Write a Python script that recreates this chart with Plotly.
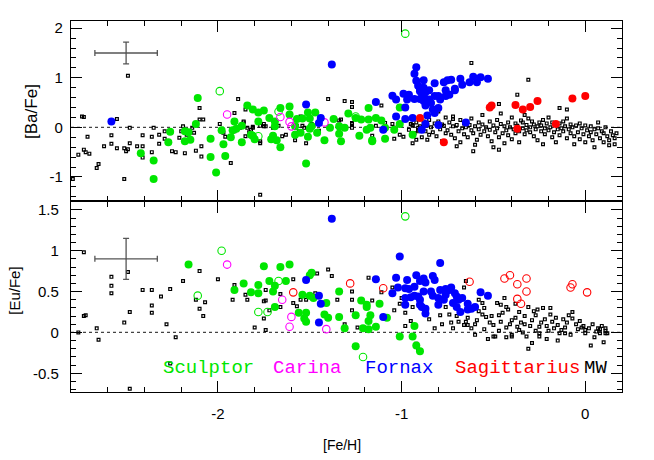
import plotly.graph_objects as go

# ---------------- DATA ([Fe/H], [X/Fe]) ----------------
# Top panel: [Ba/Fe]
fornax_ba = [(-2.58,0.12),(-1.52,0.46),(-1.44,0.19),(-1.45,0.09),(-1.38,1.27),
 (-0.92,1.21),(-0.93,1.08),(-0.92,0.94),(-0.88,0.95),(-0.82,0.89),(-0.77,0.91),(-0.75,0.95),(-0.73,0.96),
 (-0.68,0.98),(-0.67,0.86),(-0.63,0.91),(-0.61,1.02),(-0.59,0.91),(-0.57,1.01),(-0.53,0.98),
 (-0.90,0.78),(-0.88,0.80),(-0.89,0.69),(-0.87,0.71),(-0.90,0.57),(-0.93,0.57),(-0.97,0.56),(-0.96,0.66),
 (-1.05,0.64),(-1.03,0.56),(-0.98,0.40),(-1.03,0.22),(-0.98,0.17),(-0.94,0.19),(-0.89,-0.05),(-0.87,0.07),
 (-0.86,0.24),(-0.83,0.36),(-0.80,0.39),(-0.84,0.49),(-0.82,0.63),(-0.80,0.63),(-0.79,0.56),(-0.76,0.75),
 (-0.76,0.63),(-0.74,0.66),(-0.71,0.78),(-0.71,0.75),(-0.80,0.05),(-0.65,0.10),(-0.85,0.75),(-0.88,0.63),
 (-0.91,0.84),(-1.14,0.51),(-1.10,-0.05),(-0.99,0.68),(-0.88,0.53),(-0.85,0.56),(-0.87,0.44),(-0.82,0.29),
 (-0.90,0.73)]
sgr_ba = [(-0.90,0.19),(-0.77,-0.30),(-0.52,0.40),(-0.51,0.44),(-0.38,0.45),(-0.34,0.36),(-0.30,0.41),
 (-0.26,0.53),(-0.37,-0.03),(-0.16,0.07),(-0.07,0.58),(0.00,0.63)]
scl_ba = [(-2.11,0.59),(-1.84,0.44),(-2.12,0.07),(-2.26,-0.09),(-2.18,-0.08),(-2.16,-0.10),(-2.27,-0.30),
 (-2.18,-0.28),(-2.15,-0.25),(-2.04,-0.23),(-2.42,-0.52),(-2.35,-0.67),(-2.35,-1.04),(-2.04,-0.60),
 (-2.01,-0.91),(-1.97,-0.34),(-1.96,-0.58),(-1.98,-0.06),(-1.93,-0.20),(-1.91,0.12),(-1.92,-0.06),
 (-1.90,-0.03),(-1.87,0.03),(-1.87,-0.30),(-1.82,-0.15),(-1.81,0.36),(-1.78,0.30),(-1.75,0.34),(-1.78,0.12),
 (-1.81,-0.17),(-1.80,-0.24),(-1.72,0.19),(-1.69,0.12),(-1.70,-0.17),(-1.71,-0.24),(-1.68,-0.26),
 (-1.66,-0.40),(-1.66,0.39),(-1.61,0.42),(-1.61,0.26),(-1.57,0.17),(-1.54,0.18),(-1.51,0.30),(-1.47,0.30),
 (-1.50,0.18),(-1.58,0.02),(-1.55,-0.11),(-1.51,-0.19),(-1.50,-0.03),(-1.58,-0.15),(-1.52,-0.73),
 (-1.42,-0.26),(-1.39,-0.01),(-1.37,0.17),(-1.34,0.02),(-1.34,-0.13),(-1.31,-0.01),(-1.29,0.28),
 (-1.25,0.19),(-1.22,0.16),(-1.23,-0.17),(-1.18,0.39),(-1.18,0.16),(-1.19,-0.05),(-1.17,-0.01),
 (-1.16,-0.26),(-1.14,0.19),(-1.11,0.14),(-1.09,-0.01),(-1.09,-0.23),(-1.04,-0.05),(-1.01,0.40),
 (-0.94,-0.15),(-1.46,-0.11),(-1.49,0.02),(-1.69,0.02),(-1.01,0.07),(-1.33,-0.28),(-1.16,-0.28)]
scl_ba_open = [(-1.99,0.73),(-0.98,1.89),(-1.78,-0.18),(-1.67,0.32),(-1.25,0.22)]
car_ba = [(-1.95,0.26),(-1.66,0.21),(-1.61,0.11),(-1.60,0.02),(-1.42,0.10)]
mw_ba = [(-2.79,-1.04),(-2.76,-0.55),(-2.74,0.22),(-2.73,0.21),(-2.71,-0.19),(-2.73,-0.45),(-2.72,-0.50),
 (-2.70,-0.53),(-2.66,-0.82),(-2.65,-0.74),(-2.62,-0.38),(-2.58,-0.16),(-2.58,-0.33),(-2.55,0.17),
 (-2.55,-0.42),(-2.51,-0.42),(-2.50,-0.48),(-2.49,-0.44),(-2.51,-1.04),(-2.49,1.04),(-2.48,-0.01),
 (-2.44,-0.38),(-2.41,-0.16),(-2.41,-0.38),(-2.36,-0.50),(-2.35,-0.01),(-2.36,-0.19),(-2.32,-0.15),
 (-2.32,-0.33),(-2.29,-0.23),(-2.25,-0.48),(-2.23,-0.50),(-2.21,-0.21),(-2.20,-0.08),(-2.19,0.02),
 (-2.18,-0.52),(-2.17,-0.15),(-2.14,-0.01),(-2.13,-0.11),(-2.10,0.39),(-2.10,0.16),(-2.12,-0.47),
 (-2.09,-0.38),(-2.08,0.16),(-2.09,-0.59),(-1.99,0.07),(-1.97,-0.11),(-1.96,-0.19),(-1.93,-0.72),
 (-1.91,-0.08),(-1.89,0.57),(-1.88,-0.01),(-1.86,0.12),(-1.85,-0.18),(-1.83,-0.10),(-1.81,-0.01),
 (-1.77,-1.36),(-1.77,-0.28),(-1.75,0.02),(-1.70,-0.01),(-1.67,0.03),(-1.65,-0.18),(-1.63,-0.15),
 (-1.58,-0.26),(-1.56,-0.08),(-1.54,0.03),(-1.52,-0.32),(-1.45,-0.07),(-1.40,0.57),(-2.48,-0.32),
 (-2.41,-0.61),(-2.29,-0.08),(-1.91,0.29),(-1.85,0.36),(-1.86,0.10),(-1.84,-0.01),(-1.82,-0.05),
 (-1.81,0.01),(-1.77,0.03),(-1.75,0.07),(-1.77,-0.32),(-1.74,0.02),(-1.57,0.03),(-1.55,0.22),(-1.53,-0.01),
 (-1.49,0.07),(-1.48,0.03),(-1.46,-0.11),(-1.27,0.41),(-1.34,0.14),(-1.27,0.09),(-1.34,-0.01),
 (-1.16,-0.17),(-1.14,0.03),(-1.09,0.09),(-1.05,0.07),(-1.04,-0.01),(-1.01,-0.15),(-0.99,-0.19),
 (-0.96,-0.05),(-0.94,0.03),(-0.92,-0.25),(-0.91,-0.08),(-1.31,0.53),(-1.27,0.51),(-1.33,0.16),
 (-1.27,0.07),(-1.27,-0.01),(-1.11,0.44),(-1.04,-0.23),(-0.95,0.07),(-0.94,-0.32),(-0.91,-0.01),
 (-0.80,0.32),(-0.72,0.17),(-0.62,1.30),(-0.47,0.47),(-0.37,0.66),(-0.31,0.96),(-0.14,0.39),(-0.10,0.36),
 (0.07,0.10),(0.16,-0.34),(-0.61,-0.48),(-0.47,-0.45),
 (-0.94,0.05),(-0.93,-0.12),(-0.92,0.10),(-0.91,-0.05),(-0.90,0.02),(-0.89,-0.20),(-0.88,0.12),(-0.87,-0.08),
 (-0.86,0.04),(-0.85,-0.15),(-0.85,0.15),(-0.86,-0.25),(-0.84,0.00),(-0.83,-0.10),(-0.82,0.08),(-0.81,-0.18),
 (-0.80,0.12),(-0.79,-0.04),(-0.78,-0.28),(-0.77,0.03),(-0.76,-0.12),(-0.76,0.20),(-0.75,-0.06),(-0.78,0.06),
 (-0.74,0.10),(-0.73,-0.15),(-0.72,0.02),(-0.71,-0.22),(-0.70,0.05),(-0.69,-0.08),(-0.68,0.15),(-0.68,-0.30),
 (-0.67,-0.02),(-0.66,0.08),(-0.66,-0.14),(-0.65,0.00),(-0.72,0.22),(-0.70,-0.38),(-0.64,-0.20),(-0.63,0.05),
 (-0.62,-0.06),(-0.62,0.18),(-0.61,-0.12),(-0.60,0.02),(-0.59,-0.25),(-0.58,0.10),(-0.58,-0.04),(-0.57,-0.15),
 (-0.56,0.06),(-0.55,-0.08),(-0.56,0.25),(-0.60,-0.35),(-0.54,0.00),(-0.53,-0.18),(-0.52,0.12),(-0.52,-0.05),
 (-0.51,-0.28),(-0.50,0.04),(-0.49,-0.10),(-0.48,0.15),(-0.48,-0.02),(-0.47,-0.20),(-0.46,0.07),(-0.45,-0.12),
 (-0.46,0.28),(-0.50,-0.40),(-0.44,0.02),(-0.43,-0.06),(-0.42,0.10),(-0.42,-0.16),(-0.41,0.00),(-0.40,-0.24),
 (-0.40,0.20),(-0.39,-0.04),(-0.38,0.08),(-0.38,-0.12),(-0.37,0.03),(-0.36,-0.08),(-0.35,0.14),(-0.36,-0.30),
 (-0.44,-0.32),(-0.34,-0.02),(-0.34,0.10),(-0.33,-0.14),(-0.32,0.05),(-0.32,-0.06),(-0.31,0.18),(-0.30,-0.10),
 (-0.30,0.00),(-0.29,0.12),(-0.28,-0.18),(-0.28,0.06),(-0.27,-0.04),(-0.26,0.02),(-0.26,-0.26),(-0.25,0.10),
 (-0.33,0.25),(-0.24,-0.08),(-0.24,0.04),(-0.23,0.15),(-0.22,-0.02),(-0.22,-0.14),(-0.21,0.08),(-0.20,-0.06),
 (-0.20,0.20),(-0.19,0.00),(-0.18,-0.20),(-0.18,0.10),(-0.17,-0.10),(-0.16,0.05),(-0.15,-0.04),(-0.16,-0.30),
 (-0.23,-0.34),(-0.14,0.08),(-0.14,-0.16),(-0.13,-0.02),(-0.12,0.12),(-0.12,-0.08),(-0.11,0.02),(-0.10,-0.22),
 (-0.10,0.18),(-0.09,-0.04),(-0.08,0.06),(-0.08,-0.12),(-0.07,0.00),(-0.06,-0.18),(-0.05,0.04),(-0.06,-0.34),
 (-0.04,-0.10),(-0.03,0.08),(-0.03,-0.24),(-0.02,-0.02),(-0.01,-0.14),(0.00,0.04),(0.00,-0.30),(0.01,-0.06),
 (0.02,-0.18),(0.03,0.02),(0.03,-0.10),(0.04,-0.26),(0.05,-0.04),(0.05,-0.40),(0.06,-0.14),(0.07,-0.02),
 (0.08,-0.22),(0.09,-0.08),(0.10,-0.30),(0.10,-0.12),(0.11,0.00),(0.12,-0.18),(0.13,-0.26),(0.14,-0.08),
 (0.15,-0.16),(0.16,-0.22),(0.17,-0.12),(0.13,-0.36)]

# Bottom panel: [Eu/Fe]
fornax_eu = [(-1.38,1.39),(-1.52,0.64),(-1.45,0.45),(-1.44,0.35),(-1.45,0.12),(-1.14,0.65),(-1.10,0.19),
 (-1.01,0.93),(-1.03,0.67),(-1.05,0.48),(-0.97,0.64),(-0.92,0.70),(-0.88,0.66),(-0.96,0.53),(-0.98,0.54),
 (-0.93,0.45),(-0.90,0.40),(-0.89,0.31),(-0.87,0.23),(-1.02,0.55),(-0.98,0.42),(-0.87,0.61),(-0.83,0.69),
 (-0.82,0.64),(-0.79,0.85),(-0.76,0.53),(-0.73,0.55),(-0.71,0.48),(-0.69,0.40),(-0.67,0.42),(-0.64,0.35),
 (-0.62,0.29),(-0.60,0.31),(-0.57,0.49),(-0.53,0.45),(-0.91,0.44),(-0.88,0.50),(-0.90,0.34),(-0.87,0.29),
 (-0.84,0.50),(-0.80,0.42),(-0.80,0.34),(-0.77,0.40),(-0.76,0.46),(-0.72,0.36),(-0.70,0.31),(-0.68,0.25),
 (-0.95,0.43),(-0.98,0.34),(-0.93,0.56),(-0.90,0.63),(-0.83,0.45),(-0.79,0.52),(-0.74,0.52),(-0.70,0.44),
 (-0.64,0.28)]
scl_eu = [(-2.16,0.83),(-1.91,0.52),(-1.86,0.60),(-1.82,0.49),(-1.78,0.58),(-1.78,0.48),(-1.75,0.81),
 (-1.72,0.63),(-1.70,0.50),(-1.69,0.57),(-1.66,0.80),(-1.63,0.63),(-1.61,0.83),(-1.69,0.31),(-1.54,0.46),
 (-1.52,0.24),(-1.53,0.17),(-1.52,0.13),(-1.50,0.70),(-1.49,0.73),(-1.50,0.45),(-1.48,0.42),(-1.42,0.22),
 (-1.40,0.18),(-1.41,0.36),(-1.56,0.24),(-1.34,0.50),(-1.34,0.19),(-1.31,0.05),(-1.25,0.21),(-1.25,-0.17),
 (-1.22,0.39),(-1.19,0.34),(-1.19,0.31),(-1.21,0.05),(-1.18,0.04),(-1.18,0.14),(-1.17,0.21),(-1.14,0.07),
 (-1.12,0.35),(-1.08,0.18),(-1.01,-0.05),(-0.94,-0.05),(-0.93,0.08),(-0.92,-0.16),(-0.90,-0.23)]
scl_eu_open = [(-1.98,1.00),(-2.11,0.45),(-1.78,0.25),(-1.73,0.25),(-1.67,0.63),(-1.21,-0.30),(-0.98,1.42)]
car_eu = [(-1.95,0.83),(-1.65,0.40),(-1.60,0.19),(-1.61,0.07),(-1.41,0.04)]
sgr_eu = [(-1.59,0.49),(-1.28,0.60),(-1.10,0.54),(-0.63,0.62),(-0.44,0.66),(-0.41,0.70),(-0.37,0.59),
 (-0.32,0.66),(-0.32,0.50),(-0.37,0.41),(-0.35,0.35),(-0.08,0.55),(-0.07,0.59),(0.01,0.49)]
mw_eu = [(-2.73,0.98),(-2.76,0.00),(-2.73,0.20),(-2.72,0.21),(-2.66,0.05),(-2.65,-0.09),(-2.58,0.68),
 (-2.58,0.57),(-2.58,0.48),(-2.49,0.74),(-2.48,0.25),(-2.51,0.12),(-2.48,-0.69),(-2.41,0.52),(-2.36,0.52),
 (-2.36,0.33),(-2.36,0.24),(-2.31,0.44),(-2.28,0.10),(-2.26,0.53),(-2.23,-0.06),(-2.26,-0.38),(-2.19,0.63),
 (-2.10,0.75),(-2.12,0.40),(-2.10,0.29),(-2.08,0.20),(-2.07,0.37),(-2.00,0.65),(-1.92,0.40),(-1.91,0.58),
 (-1.85,0.46),(-1.84,0.40),(-1.80,0.06),(-1.75,0.38),(-1.75,0.17),(-1.74,0.03),(-1.72,0.27),(-1.66,0.47),
 (-1.66,0.31),(-1.59,0.65),(-1.59,0.36),(-1.57,0.32),(-1.55,0.40),(-1.52,0.40),(-1.47,0.48),(-1.46,0.72),
 (-1.40,0.77),(-1.74,0.52),(-1.74,0.39),(-1.38,0.69),(-1.35,0.40),(-1.31,0.10),(-1.27,0.50),(-1.27,0.40),
 (-1.27,0.27),(-1.24,0.06),(-1.18,0.67),(-1.16,0.39),(-1.11,0.49),(-1.04,0.27),(-1.05,0.55),(-1.01,0.35),
 (-0.98,0.08),(-0.95,0.14),(-0.94,0.31),(-0.98,0.24),(-0.92,-0.14),(-0.91,-0.21),
 (-0.65,0.63),(-0.66,0.55),(-0.79,0.21),(-0.76,0.31),(-0.69,0.13),(-0.66,0.09),(-0.64,0.18),(-0.60,-0.03),
 (-0.60,0.10),(-0.59,0.15),(-0.56,0.22),(-0.56,0.36),(-0.53,-0.08),(-0.52,0.12),(-0.50,0.09),(-0.49,-0.05),
 (-0.48,0.36),(-0.47,0.21),(-0.46,0.13),(-0.44,0.42),(-0.43,0.31),(-0.42,0.28),(-0.43,0.06),(-0.40,0.15),
 (-0.40,-0.03),(-0.37,0.07),(-0.36,0.25),(-0.33,0.20),(-0.32,-0.05),(-0.31,-0.20),(-0.31,0.31),(-0.29,0.15),
 (-0.27,0.21),(-0.25,0.07),(-0.25,-0.01),(-0.22,0.16),(-0.21,0.08),(-0.19,0.22),(-0.18,0.13),(-0.17,0.05),
 (-0.14,-0.01),(-0.12,0.16),(-0.11,0.06),(-0.07,0.25),(-0.07,0.17),(-0.04,0.04),(-0.02,0.06),(0.02,0.05),
 (0.03,-0.16),(0.05,-0.06),(0.08,0.04),(0.08,-0.01),(0.11,0.05),(0.11,-0.01),(0.11,0.02),(-0.65,0.13),
 (-0.64,0.09),(-0.54,0.19),(-0.50,-0.05),(-0.40,-0.05),(-0.46,0.34),(-0.36,0.03),(-0.25,-0.05),(-0.11,-0.01),
 (-0.01,0.08),(0.00,-0.01),(0.07,0.05),(0.10,-0.12),(0.12,-0.01),(-0.58,0.26),(-0.55,0.04),(-0.51,0.20),
 (-0.47,0.02),(-0.45,0.24),(-0.41,0.10),(-0.38,0.18),(-0.35,0.12),(-0.34,0.00),(-0.30,0.08),(-0.28,0.26),
 (-0.27,0.02),(-0.24,0.12),(-0.23,0.30),(-0.20,0.02),(-0.16,0.18),(-0.15,0.09),(-0.13,0.03),(-0.10,0.12),
 (-0.09,0.21),(-0.08,-0.03),(-0.05,0.10),(-0.03,0.14),(0.00,0.03),(0.04,0.10),(0.06,0.01),(0.09,0.08),
 (-0.29,-0.13),(-0.21,-0.08),(-0.15,-0.10),(-0.58,0.40),(-0.62,0.05),(-0.70,0.20),(-0.73,0.12),(-0.55,0.30),
 (-0.38,0.35),(-0.26,0.28),(-0.19,0.30),(-0.43,-0.06),(-0.33,0.10),(-0.85,0.16),(-0.82,0.05),(-0.78,0.10),
 (-0.74,0.22),(-0.72,0.05),(-1.00,0.42)]

# typical error bars
err_ba = dict(x=-2.5, y=1.5, dx=0.17, dy=0.22)
err_eu = dict(x=-2.5, y=0.9, dx=0.17, dy=0.25)

legend_names = ["Sculptor", "Carina", "Fornax", "Sagittarius", "MW"]
legend_colors = ["#00e600", "#ff00ff", "#0000ff", "#ff0000", "#000000"]
legend_x = [-2.31, -1.71, -1.21, -0.72, -0.02]

# ---------------- FIGURE ----------------
GREEN, MAG, BLUE, RED = legend_colors[:4]
fig = go.Figure()

def add(pts, ax, ay, color, kind):
    xs = [p[0] for p in pts]
    ys = [p[1] for p in pts]
    if kind == "mw":
        m = dict(symbol="square-open", size=2.8, color="black", line=dict(width=1.2, color="black"))
    elif kind == "open":
        m = dict(symbol="circle-open", size=7.5, color=color, line=dict(width=1.1, color=color))
    else:
        m = dict(symbol="circle", size=8, color=color, line=dict(width=0))
    fig.add_trace(go.Scatter(x=xs, y=ys, mode="markers", marker=m, xaxis=ax, yaxis=ay,
                             showlegend=False, hoverinfo="skip"))

add(mw_ba, "x", "y", "black", "mw")
add(scl_ba, "x", "y", GREEN, "filled")
add(scl_ba_open, "x", "y", GREEN, "open")
add(car_ba, "x", "y", MAG, "open")
add(fornax_ba, "x", "y", BLUE, "filled")
add(sgr_ba, "x", "y", RED, "filled")

add(mw_eu, "x2", "y2", "black", "mw")
add(scl_eu, "x2", "y2", GREEN, "filled")
add(scl_eu_open, "x2", "y2", GREEN, "open")
add(car_eu, "x2", "y2", MAG, "open")
add(sgr_eu, "x2", "y2", RED, "open")
add(fornax_eu, "x2", "y2", BLUE, "filled")

for e, ax, ay in [(err_ba, "x", "y"), (err_eu, "x2", "y2")]:
    fig.add_trace(go.Scatter(x=[e["x"]], y=[e["y"]], mode="markers", xaxis=ax, yaxis=ay,
        marker=dict(size=1, color="#555555"), showlegend=False, hoverinfo="skip",
        error_x=dict(type="constant", value=e["dx"], color="#555555", thickness=1.3, width=3),
        error_y=dict(type="constant", value=e["dy"], color="#555555", thickness=1.3, width=3)))

for ax, ay in [("x", "y"), ("x2", "y2")]:
    fig.add_shape(type="line", xref=ax, yref=ay, x0=-2.8, x1=0.2, y0=0, y1=0,
                  line=dict(color="#444444", width=1.2, dash="dot"), layer="below")

SPLIT = 0.5135
tickfont = dict(family="Liberation Sans, Arial, sans-serif", size=15, color="black")
xcommon = dict(range=[-2.8, 0.2], showline=True, linecolor="black", linewidth=1.4, mirror="allticks",
               ticks="inside", ticklen=11, tickwidth=1.1, tickcolor="black", tick0=0, dtick=1,
               minor=dict(ticks="inside", ticklen=5, tickwidth=1, tickcolor="black", tick0=0, dtick=0.2),
               showgrid=False, zeroline=False, tickfont=tickfont)
ycommon = dict(showline=True, linecolor="black", linewidth=1.4, mirror="allticks",
               ticks="inside", ticklen=11, tickwidth=1.1, tickcolor="black",
               showgrid=False, zeroline=False, tickfont=tickfont)

fig.update_layout(
    width=654, height=460, margin=dict(l=71, r=32, t=21, b=68),
    paper_bgcolor="white", plot_bgcolor="white",
    xaxis=dict(xcommon, anchor="y", matches="x2", showticklabels=False),
    yaxis=dict(ycommon, domain=[SPLIT, 1], anchor="x", range=[-1.495, 2.145],
               tickvals=[-1, 0, 1, 2], ticktext=["-1", "0", "1", "2"], ticklabelstandoff=4,
               minor=dict(ticks="inside", ticklen=5, tickwidth=1, tickcolor="black", tick0=0, dtick=0.2)),
    xaxis2=dict(xcommon, anchor="y2", tickvals=[-2, -1, 0], ticktext=["-2", "-1", "0"],
                ticklabelstandoff=8),
    yaxis2=dict(ycommon, domain=[0, SPLIT], anchor="x2", range=[-0.729, 1.602],
                tickvals=[-0.5, 0, 0.5, 1, 1.5], ticktext=["-0.5", "0", "0.5", "1", "1.5"],
                ticklabelstandoff=8,
                minor=dict(ticks="inside", ticklen=5, tickwidth=1, tickcolor="black", tick0=0, dtick=0.1)),
)

annots = [
    dict(text="[Ba/Fe]", xref="paper", yref="paper", x=-0.0707, y=0.755, textangle=-90,
         showarrow=False, xanchor="center", yanchor="middle",
         font=dict(family="Liberation Sans, Arial, sans-serif", size=17, color="black")),
    dict(text="[Eu/Fe]", xref="paper", yref="paper", x=-0.1016, y=0.273, textangle=-90,
         showarrow=False, xanchor="center", yanchor="middle",
         font=dict(family="Liberation Sans, Arial, sans-serif", size=15, color="black")),
    dict(text="[Fe/H]", xref="paper", yref="paper", x=0.491, y=-0.143, showarrow=False,
         xanchor="center", yanchor="middle",
         font=dict(family="Liberation Sans, Arial, sans-serif", size=14, color="black")),
]
for name, col, lx in zip(legend_names, legend_colors, legend_x):
    annots.append(dict(text=name, xref="x2", yref="y2", x=lx, y=-0.44, showarrow=False,
                       xanchor="left", yanchor="middle",
                       font=dict(family="Courier New, Liberation Mono, monospace", size=19, color=col)))
fig.update_layout(annotations=annots)

fig.write_html("out.html", config={"displayModeBar": False},
               post_script="document.body.style.margin='0px';document.body.style.overflow='hidden';")
